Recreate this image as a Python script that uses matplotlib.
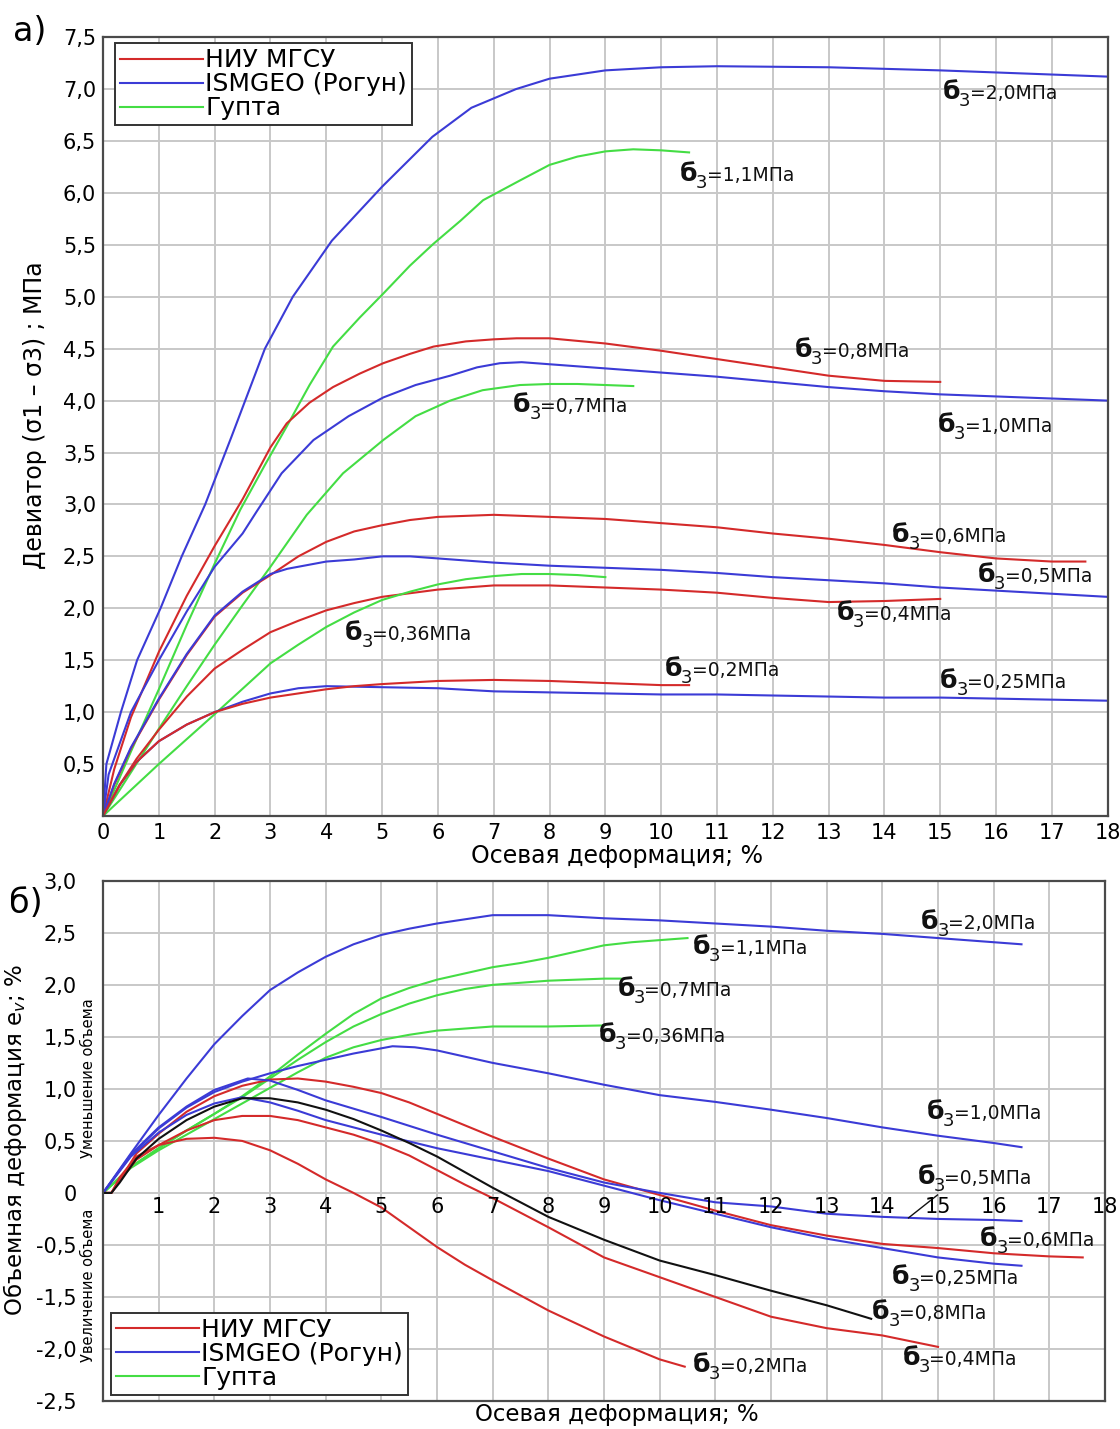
import numpy as np
import matplotlib
matplotlib.use('Agg')
import matplotlib.pyplot as plt

plt.rcParams['font.family'] = ['DejaVu Sans']

RED = '#d42a2a'
BLUE = '#3b3bd6'
GREEN = '#44dd44'
BLACK = '#111111'

# --- a) deviator stress vs axial strain ---
dev_b20_x = [0, 0.06, 0.32, 0.61, 1.03, 1.41, 1.83, 2.3, 2.9, 3.4, 4.1, 5.0, 5.9, 6.6, 7.4, 8, 9, 10, 11, 13, 15, 16, 18]
dev_b20_y = [0, 0.5, 1.0, 1.5, 2.0, 2.5, 3.0, 3.65, 4.5, 5.0, 5.54, 6.06, 6.54, 6.82, 7.0, 7.1, 7.18, 7.21, 7.22, 7.21, 7.18, 7.16, 7.12]

dev_g11_x = [0, 0.5, 1, 1.5, 2, 2.46, 2.9, 3.29, 3.7, 4.12, 4.6, 5.02, 5.5, 5.92, 6.4, 6.81, 7.47, 8, 8.5, 9, 9.5, 10, 10.5]
dev_g11_y = [0, 0.62, 1.22, 1.84, 2.43, 2.95, 3.38, 3.75, 4.15, 4.52, 4.8, 5.03, 5.3, 5.51, 5.73, 5.93, 6.12, 6.27, 6.35, 6.4, 6.42, 6.41, 6.39]

dev_r08_x = [0, 0.2, 0.5, 1, 1.5, 2, 2.5, 3, 3.29, 3.7, 4.12, 4.6, 5.02, 5.5, 5.92, 6.5, 7.0, 7.41, 8, 9, 10, 11, 12, 13, 14, 15]
dev_r08_y = [0, 0.45, 0.95, 1.58, 2.12, 2.6, 3.05, 3.55, 3.78, 3.98, 4.13, 4.26, 4.36, 4.45, 4.52, 4.57, 4.59, 4.6, 4.6, 4.55, 4.48, 4.4, 4.32, 4.24, 4.19, 4.18]

dev_b10_x = [0, 0.1, 0.5, 1, 1.5, 2, 2.5, 2.75, 3.2, 3.77, 4.4, 5.02, 5.6, 6.22, 6.7, 7.11, 7.5, 8, 9, 10, 11, 12, 13, 14, 15, 16, 17, 18]
dev_b10_y = [0, 0.4, 1.0, 1.5, 1.97, 2.4, 2.72, 2.93, 3.3, 3.62, 3.85, 4.03, 4.15, 4.24, 4.32, 4.36, 4.37, 4.35, 4.31, 4.27, 4.23, 4.18, 4.13, 4.09, 4.06, 4.04, 4.02, 4.0]

dev_g07_x = [0, 0.5, 1, 1.5, 2, 2.5, 3, 3.65, 4.3, 5.02, 5.6, 6.22, 6.8, 7.47, 8, 8.5, 9, 9.5]
dev_g07_y = [0, 0.42, 0.84, 1.25, 1.65, 2.03, 2.4, 2.9, 3.3, 3.62, 3.85, 4.0, 4.1, 4.15, 4.16, 4.16, 4.15, 4.14]

dev_r06_x = [0, 0.2, 0.5, 1, 1.5, 2, 2.5, 3, 3.5, 4, 4.5, 5, 5.5, 6, 7, 8, 9, 10, 11, 12, 13, 14, 15, 16, 17, 17.6]
dev_r06_y = [0, 0.3, 0.65, 1.12, 1.55, 1.92, 2.15, 2.32, 2.5, 2.64, 2.74, 2.8, 2.85, 2.88, 2.9, 2.88, 2.86, 2.82, 2.78, 2.72, 2.67, 2.61, 2.54, 2.48, 2.45, 2.45]

dev_b05_x = [0, 0.2, 0.5, 1, 1.5, 2, 2.5, 3, 3.3, 4, 4.5, 5, 5.5, 6, 7, 8, 9, 10, 11, 12, 13, 14, 15, 16, 17, 18]
dev_b05_y = [0, 0.31, 0.66, 1.13, 1.56, 1.93, 2.16, 2.33, 2.38, 2.45, 2.47, 2.5, 2.5, 2.48, 2.44, 2.41, 2.39, 2.37, 2.34, 2.3, 2.27, 2.24, 2.2, 2.17, 2.14, 2.11]

dev_r04_x = [0, 0.3, 0.6, 1, 1.5, 2, 2.5, 3, 3.5, 4, 4.5, 5, 6, 7, 8, 9, 10, 11, 12, 13, 14, 15]
dev_r04_y = [0, 0.3, 0.55, 0.83, 1.15, 1.42, 1.6, 1.77, 1.88, 1.98, 2.05, 2.11, 2.18, 2.22, 2.22, 2.2, 2.18, 2.15, 2.1, 2.06, 2.07, 2.09]

dev_g036_x = [0, 1, 2, 3, 3.5, 4, 4.5, 5, 5.5, 6, 6.5, 7, 7.5, 8, 8.5, 9]
dev_g036_y = [0, 0.5, 0.98, 1.47, 1.65, 1.82, 1.96, 2.08, 2.16, 2.23, 2.28, 2.31, 2.33, 2.33, 2.32, 2.3]

dev_b025_x = [0, 0.3, 0.6, 1, 1.5, 2, 2.5, 3, 3.5, 4, 5, 6, 7, 8, 9, 10, 11, 12, 13, 14, 15, 16, 17, 18]
dev_b025_y = [0, 0.3, 0.52, 0.72, 0.88, 1.0, 1.1, 1.18, 1.23, 1.25, 1.24, 1.23, 1.2, 1.19, 1.18, 1.17, 1.17, 1.16, 1.15, 1.14, 1.14, 1.13, 1.12, 1.11]

dev_r02_x = [0, 0.3, 0.6, 1, 1.5, 2, 2.5, 3, 3.5, 4, 4.5, 5, 6, 7, 8, 9, 10, 10.5]
dev_r02_y = [0, 0.3, 0.52, 0.72, 0.88, 1.0, 1.08, 1.14, 1.18, 1.22, 1.25, 1.27, 1.3, 1.31, 1.3, 1.28, 1.26, 1.26]

dev_labels = [
    (15.04, 6.98, '2,0'), (10.34, 6.19, '1,1'), (12.4, 4.5, '0,8'),
    (7.35, 3.97, '0,7'), (14.95, 3.78, '1,0'), (14.14, 2.72, '0,6'),
    (15.68, 2.33, '0,5'), (13.14, 1.97, '0,4'), (4.34, 1.77, '0,36'),
    (10.07, 1.43, '0,2'), (15.0, 1.31, '0,25'),
]

# --- b) volumetric strain vs axial strain ---
vol_b20_x = [0, 0.5, 1, 1.5, 2, 2.5, 3, 3.5, 4, 4.5, 5, 5.5, 6, 6.5, 7, 8, 9, 10, 11, 12, 13, 14, 15, 16, 16.5]
vol_b20_y = [0, 0.38, 0.75, 1.1, 1.43, 1.7, 1.95, 2.12, 2.27, 2.39, 2.48, 2.54, 2.59, 2.63, 2.67, 2.67, 2.64, 2.62, 2.59, 2.56, 2.52, 2.49, 2.45, 2.41, 2.39]

vol_g11_x = [0, 0.5, 1, 1.5, 2, 2.5, 3, 3.5, 4, 4.5, 5, 5.5, 6, 6.5, 7, 7.5, 8, 8.5, 9, 9.5, 10, 10.5]
vol_g11_y = [0, 0.25, 0.43, 0.6, 0.76, 0.93, 1.12, 1.33, 1.53, 1.72, 1.87, 1.97, 2.05, 2.11, 2.17, 2.21, 2.26, 2.32, 2.38, 2.41, 2.43, 2.45]

vol_g07_x = [0, 0.5, 1, 1.5, 2, 2.5, 3, 3.5, 4, 4.5, 5, 5.5, 6, 6.5, 7, 7.5, 8, 8.5, 9, 9.3]
vol_g07_y = [0, 0.25, 0.43, 0.6, 0.76, 0.92, 1.1, 1.28, 1.45, 1.6, 1.72, 1.82, 1.9, 1.96, 2.0, 2.02, 2.04, 2.05, 2.06, 2.06]

vol_g036_x = [0, 0.5, 1, 1.5, 2, 2.5, 3, 3.5, 4, 4.5, 5, 5.5, 6, 6.5, 7, 8, 9]
vol_g036_y = [0, 0.24, 0.41, 0.56, 0.71, 0.86, 1.01, 1.16, 1.3, 1.4, 1.47, 1.52, 1.56, 1.58, 1.6, 1.6, 1.61]

vol_b10_x = [0, 0.5, 1, 1.5, 2, 2.5, 3, 3.5, 4, 4.5, 5, 5.2, 5.6, 6, 6.5, 7, 8, 9, 10, 11, 12, 13, 14, 15, 16, 16.5]
vol_b10_y = [0, 0.36, 0.62, 0.82, 0.97, 1.07, 1.15, 1.22, 1.28, 1.34, 1.39, 1.41, 1.4, 1.37, 1.31, 1.25, 1.15, 1.04, 0.94, 0.875, 0.8, 0.72, 0.63, 0.55, 0.48, 0.44]

vol_b05_x = [0, 0.5, 1, 1.5, 2, 2.6, 3, 3.5, 4, 5, 6, 7, 8, 9, 10, 11, 12, 13, 14, 15, 16, 16.5]
vol_b05_y = [0, 0.37, 0.63, 0.83, 0.99, 1.1, 1.08, 0.99, 0.89, 0.73, 0.56, 0.4, 0.24, 0.1, 0.0, -0.09, -0.13, -0.2, -0.23, -0.25, -0.26, -0.27]

vol_b025_x = [0, 0.5, 1, 1.5, 2, 2.5, 3, 3.5, 4, 5, 6, 7, 8, 9, 10, 11, 12, 13, 14, 15, 16, 16.5]
vol_b025_y = [0, 0.35, 0.58, 0.75, 0.86, 0.92, 0.87, 0.79, 0.7, 0.56, 0.43, 0.32, 0.21, 0.07, -0.07, -0.2, -0.33, -0.44, -0.53, -0.62, -0.68, -0.7]

vol_k08_x = [0, 0.15, 0.3, 0.6, 1, 1.5, 2, 2.5, 3, 3.5, 4, 4.5, 5, 5.5, 6, 6.5, 7, 7.5, 8, 9, 10, 11, 12, 13, 13.8]
vol_k08_y = [0, 0.0, 0.1, 0.33, 0.52, 0.7, 0.83, 0.91, 0.91, 0.87, 0.8, 0.71, 0.6, 0.48, 0.35, 0.2, 0.05, -0.09, -0.23, -0.45, -0.65, -0.79, -0.94, -1.08, -1.21]

vol_r06_x = [0, 0.15, 0.3, 0.6, 1, 1.5, 2, 2.5, 3, 3.5, 4, 4.5, 5, 5.5, 6, 7, 8, 9, 10, 11, 12, 13, 14, 15, 16, 17, 17.6]
vol_r06_y = [0, 0.0, 0.12, 0.38, 0.57, 0.78, 0.93, 1.03, 1.09, 1.1, 1.07, 1.02, 0.96, 0.87, 0.76, 0.54, 0.33, 0.13, -0.02, -0.17, -0.31, -0.41, -0.49, -0.53, -0.58, -0.61, -0.62]

vol_r04_x = [0, 0.15, 0.3, 0.6, 1, 1.5, 2, 2.5, 3, 3.5, 4, 4.5, 5, 5.5, 6, 6.5, 7, 8, 9, 10, 11, 12, 13, 14, 15]
vol_r04_y = [0, 0.0, 0.12, 0.32, 0.46, 0.6, 0.7, 0.74, 0.74, 0.7, 0.63, 0.56, 0.47, 0.36, 0.22, 0.08, -0.05, -0.33, -0.62, -0.81, -1.0, -1.19, -1.3, -1.37, -1.48]

vol_r02_x = [0, 0.15, 0.3, 0.6, 1, 1.5, 2, 2.5, 3, 3.5, 4, 4.5, 5, 5.5, 6, 6.5, 7, 8, 9, 10, 10.45]
vol_r02_y = [0, 0.0, 0.15, 0.35, 0.46, 0.52, 0.53, 0.5, 0.41, 0.28, 0.13, 0.0, -0.14, -0.33, -0.52, -0.69, -0.84, -1.13, -1.38, -1.6, -1.67]

vol_labels = [
    (14.7, 2.62, '2,0'), (10.6, 2.38, '1,1'), (9.24, 1.97, '0,7'),
    (8.9, 1.53, '0,36'), (14.8, 0.79, '1,0'), (14.63, 0.17, '0,5'),
    (15.76, -0.43, '0,6'), (14.18, -0.8, '0,25'), (13.82, -1.13, '0,8'),
    (14.36, -1.57, '0,4'), (10.59, -1.64, '0,2'),
]

vol_yticks = [3.0, 2.5, 2.0, 1.5, 1.0, 0.5, 0.0, -0.5, -1.0, -1.5, -2.0]
vol_yticklabels = ['3,0', '2,5', '2,0', '1,5', '1,0', '0,5', '0', '-0,5', '-1,5', '-2,0', '-2,5']

legend_names = ['НИУ МГСУ', 'ISMGEO (Рогун)', 'Гупта']


def style_axes(ax):
    ax.grid(True, color='#c8c8c8', linewidth=1.4)
    ax.set_axisbelow(True)
    for sp in ax.spines.values():
        sp.set_color('#4a4a4a')
        sp.set_linewidth(1.6)
    ax.tick_params(length=0, labelsize=15)


def sigma_label(ax, x, y, value):
    ax.annotate('б', xy=(x, y), xytext=(0, 0), textcoords='offset points',
                fontsize=18, fontweight='bold', va='baseline', ha='left', color='#111')
    ax.annotate('3', xy=(x, y), xytext=(11.5, -5), textcoords='offset points',
                fontsize=13, va='baseline', ha='left', color='#111')
    ax.annotate('=' + value + 'МПа', xy=(x, y), xytext=(19.5, 0), textcoords='offset points',
                fontsize=13.5, va='baseline', ha='left', color='#111')


fig = plt.figure(figsize=(11.2, 14.29), dpi=100)

# ---------- panel a ----------
ax1 = fig.add_axes([0.092, 0.429, 0.897, 0.545])
style_axes(ax1)
ax1.plot(dev_b20_x, dev_b20_y, color=BLUE, lw=1.5)
ax1.plot(dev_g11_x, dev_g11_y, color=GREEN, lw=1.5)
ax1.plot(dev_r08_x, dev_r08_y, color=RED, lw=1.5)
ax1.plot(dev_b10_x, dev_b10_y, color=BLUE, lw=1.5)
ax1.plot(dev_g07_x, dev_g07_y, color=GREEN, lw=1.5)
ax1.plot(dev_r06_x, dev_r06_y, color=RED, lw=1.5)
ax1.plot(dev_b05_x, dev_b05_y, color=BLUE, lw=1.5)
ax1.plot(dev_r04_x, dev_r04_y, color=RED, lw=1.5)
ax1.plot(dev_g036_x, dev_g036_y, color=GREEN, lw=1.5)
ax1.plot(dev_b025_x, dev_b025_y, color=BLUE, lw=1.5)
ax1.plot(dev_r02_x, dev_r02_y, color=RED, lw=1.5)

ax1.set_xlim(0, 18)
ax1.set_ylim(0, 7.5)
ax1.set_xticks(range(0, 19))
ax1.set_yticks(np.arange(0.5, 7.51, 0.5))
ax1.set_yticklabels([f'{v:.1f}'.replace('.', ',') for v in np.arange(0.5, 7.51, 0.5)])
ax1.tick_params(axis='x', pad=5)
ax1.tick_params(axis='y', pad=5)
fig.text(0.551, 1 - 856 / 1429, 'Осевая деформация; %', fontsize=17,
         ha='center', va='center')
fig.text(0.031, 1 - 415 / 1429, 'Девиатор (σ1 – σ3) ; МПа', fontsize=17,
         rotation=90, ha='center', va='center')

for x, y, v in dev_labels:
    sigma_label(ax1, x, y - 0.08, v)

h1 = [plt.Line2D([], [], color=c, lw=1.5) for c in (RED, BLUE, GREEN)]
leg1 = ax1.legend(h1, legend_names, loc='upper left', bbox_to_anchor=(0.012, 0.992),
                  borderaxespad=0, fontsize=18, fancybox=False, framealpha=1,
                  edgecolor='#333333', handlelength=3.3, handletextpad=0.1,
                  labelspacing=0.0, borderpad=0.2)
leg1.get_frame().set_linewidth(1.4)

fig.text(0.012, 0.978, 'а)', fontsize=24, va='center', ha='left')

# ---------- panel b ----------
ax2 = fig.add_axes([0.092, 0.0196, 0.8946, 0.364])
style_axes(ax2)
ax2.plot(vol_b20_x, vol_b20_y, color=BLUE, lw=1.5)
ax2.plot(vol_g11_x, vol_g11_y, color=GREEN, lw=1.5)
ax2.plot(vol_g07_x, vol_g07_y, color=GREEN, lw=1.5)
ax2.plot(vol_g036_x, vol_g036_y, color=GREEN, lw=1.5)
ax2.plot(vol_b10_x, vol_b10_y, color=BLUE, lw=1.5)
ax2.plot(vol_r06_x, vol_r06_y, color=RED, lw=1.5)
ax2.plot(vol_r04_x, vol_r04_y, color=RED, lw=1.5)
ax2.plot(vol_r02_x, vol_r02_y, color=RED, lw=1.5)
ax2.plot(vol_b05_x, vol_b05_y, color=BLUE, lw=1.5)
ax2.plot(vol_b025_x, vol_b025_y, color=BLUE, lw=1.5)
ax2.plot(vol_k08_x, vol_k08_y, color=BLACK, lw=1.5)

ax2.set_xlim(0, 18)
ax2.set_ylim(-2.0, 3.0)
ax2.set_xticks(range(0, 19))
ax2.set_xticklabels([])
ax2.set_yticks(vol_yticks)
ax2.set_yticklabels(vol_yticklabels)
ax2.tick_params(axis='y', pad=19)
for i in range(1, 19):
    ax2.text(i, -0.04, str(i), ha='center', va='top', fontsize=15, clip_on=False)
fig.text(0.551, 1 - 1414 / 1429, 'Осевая деформация; %', fontsize=16.5,
         ha='center', va='center')

for x, y, v in vol_labels:
    sigma_label(ax2, x, y - 0.08, v)
ax2.plot([14.47, 14.99], [-0.24, -0.02], color=BLACK, lw=1)

h2 = [plt.Line2D([], [], color=c, lw=1.5) for c in (RED, BLUE, GREEN)]
leg2 = ax2.legend(h2, legend_names, loc='lower left', bbox_to_anchor=(0.008, 0.012),
                  borderaxespad=0, fontsize=18, fancybox=False, framealpha=1,
                  edgecolor='#333333', handlelength=3.3, handletextpad=0.1,
                  labelspacing=0.0, borderpad=0.2)
leg2.get_frame().set_linewidth(1.4)

fig.text(0.008, 0.368, 'б)', fontsize=24, va='center', ha='left')
fig.text(0.013, 1 - 1140 / 1429, 'Объемная деформация e$_v$; %', fontsize=16.5,
         rotation=90, ha='center', va='center')
fig.text(0.079, 1 - 1078 / 1429, 'Уменьшение объема', fontsize=10.5,
         rotation=90, ha='center', va='center')
fig.text(0.079, 1 - 1285 / 1429, 'Увеличение объема', fontsize=10.5,
         rotation=90, ha='center', va='center')

fig.savefig('out.png', dpi=100)
